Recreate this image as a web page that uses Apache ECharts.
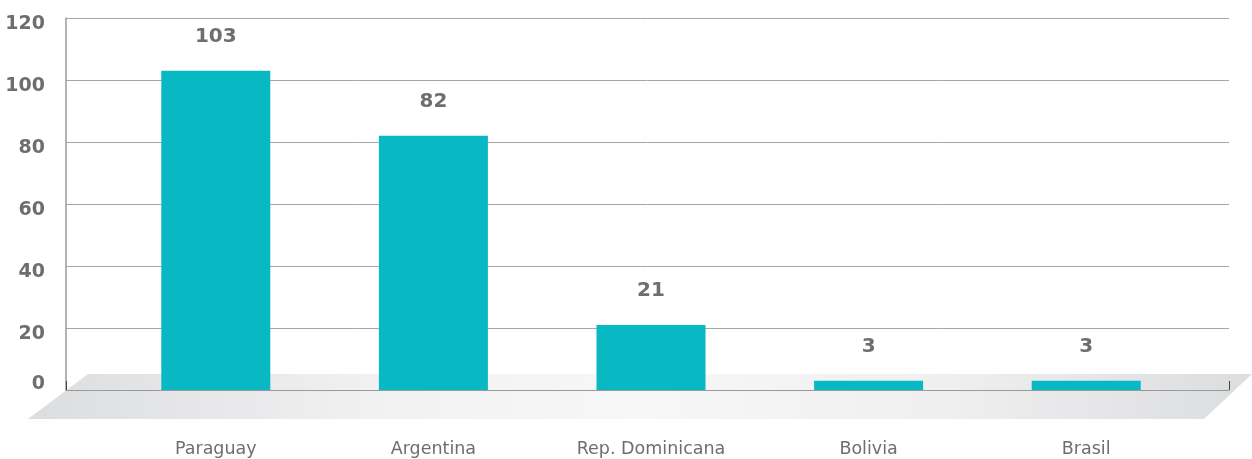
<!DOCTYPE html>
<html>
<head>
<meta charset="utf-8">
<script src="https://cdn.jsdelivr.net/npm/echarts@6/dist/echarts.min.js"></script>
<style>
  html, body { margin: 0; padding: 0; background: #ffffff; }
  #chart { width: 1252px; height: 459px; }
</style>
</head>
<body>
<div id="chart"></div>
<script>
// Countries and counts
const categories = ['Paraguay', 'Argentina', 'Rep. Dominicana', 'Bolivia', 'Brasil'];
const values = [103, 82, 21, 3, 3];
// Value axis range
const yMin = 0;
const yMax = 120;
const yStep = 20;

const textGray = '#6d6e71';
const font = '"DejaVu Sans", "Open Sans", sans-serif';

const chart = echarts.init(document.getElementById('chart'));

chart.setOption({
  animation: false,
  backgroundColor: '#ffffff',
  grid: [
    // frame: value scale, gridlines, left axis
    { left: 66, right: 23, top: 18, bottom: 69 },
    // bars sit in a narrower band inside the frame
    { left: 107, right: 57, top: 18, bottom: 69 }
  ],
  graphic: [
    {
      type: 'polygon',
      z: -10,
      silent: true,
      shape: { points: [[88, 374], [1252, 374], [1204, 419], [28, 419]] },
      style: {
        fill: {
          type: 'linear', x: 0, y: 0, x2: 1, y2: 0,
          colorStops: [
            { offset: 0, color: '#dcdddf' },
            { offset: 0.3, color: '#f2f2f3' },
            { offset: 0.5, color: '#f7f7f8' },
            { offset: 0.75, color: '#efeff0' },
            { offset: 1, color: '#dcdddf' }
          ]
        }
      }
    }
  ],
  xAxis: [
    {
      gridIndex: 0,
      type: 'value',
      min: 0, max: 1, interval: 1,
      axisLine: { show: true, lineStyle: { color: '#9a9a9a', width: 1 } },
      axisTick: { show: true, inside: true, length: 9, lineStyle: { color: '#444', width: 1 } },
      axisLabel: { show: false },
      splitLine: { show: false }
    },
    {
      gridIndex: 1,
      type: 'category',
      data: categories,
      axisLine: { show: false },
      axisTick: { show: false },
      axisLabel: {
        margin: 50,
        color: textGray,
        fontFamily: font,
        fontSize: 17.5
      }
    }
  ],
  yAxis: [
    {
      gridIndex: 0,
      type: 'value',
      min: yMin, max: yMax, interval: yStep,
      axisLine: { show: true, lineStyle: { color: '#9a9a9a', width: 1.5 } },
      axisTick: { show: false },
      splitLine: { show: true, lineStyle: { color: '#a7a7a7', width: 1 } },
      axisLabel: {
        margin: 21,
        formatter: v => v === 0 ? '{z|0}' : '{n|' + v + '}',
        rich: {
          n: { color: textGray, fontFamily: font, fontSize: 19, fontWeight: 'bold', padding: [12, 0, 0, 0] },
          z: { color: textGray, fontFamily: font, fontSize: 19, fontWeight: 'bold', padding: [0, 0, 12, 0] }
        }
      }
    },
    {
      gridIndex: 1,
      type: 'value',
      min: yMin, max: yMax, interval: yStep,
      show: false
    }
  ],
  series: [
    {
      type: 'bar',
      xAxisIndex: 1,
      yAxisIndex: 1,
      data: values,
      barWidth: 109,
      itemStyle: { color: '#08b8c3' },
      z: 5,
      label: {
        show: true,
        position: 'top',
        distance: 24,
        color: textGray,
        fontFamily: font,
        fontSize: 20,
        fontWeight: 'bold'
      }
    }
  ]
});
</script>
</body>
</html>
